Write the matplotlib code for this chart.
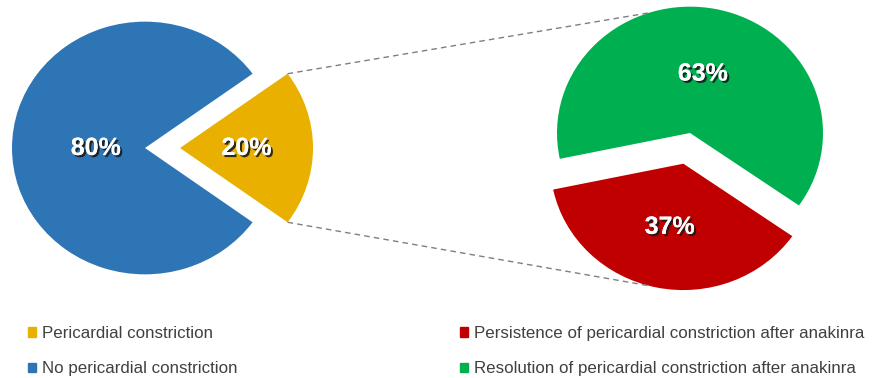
import numpy as np
import matplotlib
matplotlib.use("Agg")
import matplotlib.pyplot as plt
import matplotlib.patheffects as pe
from matplotlib.patches import Patch

plt.rcParams['font.family'] = ['Liberation Sans', 'DejaVu Sans']

# data
left_labels = ["Pericardial constriction", "No pericardial constriction"]
left_values = [20, 80]
right_labels = ["Resolution of pericardial constriction after anakinra",
                "Persistence of pericardial constriction after anakinra"]
right_values = [63, 37]

# colours
c_yellow = "#E9B000"
c_blue = "#2E75B6"
c_green = "#00B050"
c_red = "#C00000"

W, H = 875, 378
SY = 0.95  # pies are slightly squashed vertically in the original

fig = plt.figure(figsize=(W / 100, H / 100), dpi=100)
ax = fig.add_axes([0, 0, 1, 1])

R = 133
left_center = (145, (H - 148) / SY)
right_center = (690, (H - 133) / SY)

wl, _ = ax.pie(left_values, colors=[c_yellow, c_blue], startangle=-36,
               explode=[35, 0], radius=R, center=left_center, frame=True,
               wedgeprops=dict(linewidth=0))
wr, _ = ax.pie(right_values, colors=[c_green, c_red], startangle=-35,
               explode=[0, 33], radius=R, center=right_center, frame=True,
               wedgeprops=dict(linewidth=0))

shadow = [pe.withSimplePatchShadow(offset=(1.5, -1.5), shadow_rgbFace="#1a1a1a", alpha=0.9),
          pe.Normal()]


def put_label(w, val, frac):
    th = np.deg2rad((w.theta1 + w.theta2) / 2)
    cx, cy = w.center
    ax.text(cx + frac * w.r * np.cos(th), cy + frac * w.r * np.sin(th), f"{val}%",
            color="white", fontsize=18, fontweight="bold", ha="center", va="center",
            path_effects=shadow)


for w, v, f in zip(wl, left_values, [0.5, 0.37]):
    put_label(w, v, f)
for w, v, f in zip(wr, right_values, [0.48, 0.51]):
    put_label(w, v, f)


# dashed connectors: from yellow wedge corners to the right pie outline
def edge_pt(w, ang):
    cx, cy = w.center
    a = np.deg2rad(ang)
    return cx + w.r * np.cos(a), cy + w.r * np.sin(a)


y_top = edge_pt(wl[0], wl[0].theta2)
y_bot = edge_pt(wl[0], wl[0].theta1)
g_top = edge_pt(wr[0], 108)
r_bot = edge_pt(wr[1], 255)
for a, b in [(y_top, g_top), (y_bot, r_bot)]:
    ax.plot([a[0], b[0]], [a[1], b[1]], color="#7f7f7f", lw=1, ls=(0, (4, 3)))

leg_kw = dict(frameon=False, loc="upper left", fontsize=12.2, labelcolor="#404040",
              handlelength=0.5, handleheight=0.45, handletextpad=0.3,
              labelspacing=1.2, borderpad=0, borderaxespad=0)
fig.legend([Patch(color=c_yellow), Patch(color=c_blue)], left_labels,
           bbox_to_anchor=(28 / W, 1 - 326 / H), **leg_kw)
fig.legend([Patch(color=c_red), Patch(color=c_green)], [right_labels[1], right_labels[0]],
           bbox_to_anchor=(460 / W, 1 - 326 / H), **leg_kw)

ax.set_xlim(0, W)
ax.set_ylim(0, H / SY)
ax.set_aspect("auto")
ax.axis("off")

fig.savefig("out.png", dpi=100)
